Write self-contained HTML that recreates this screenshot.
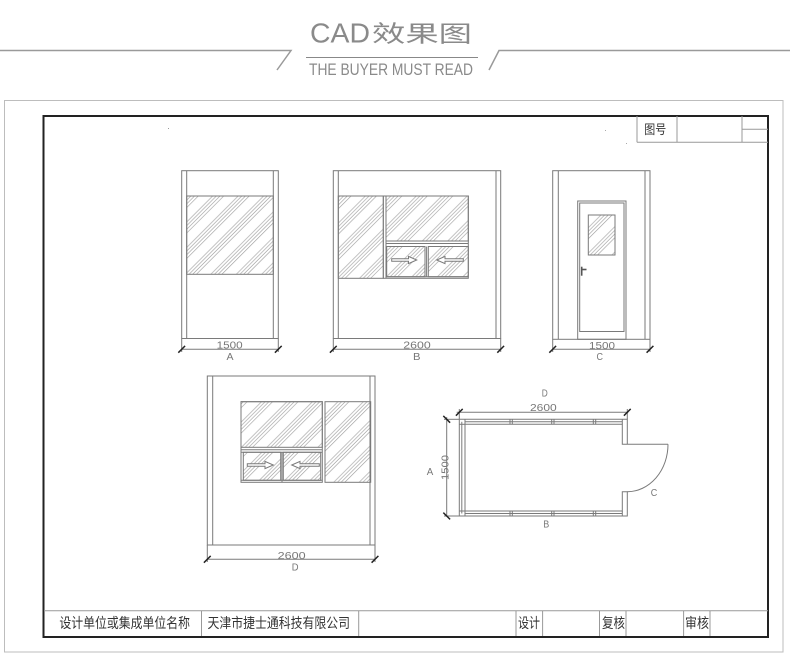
<!DOCTYPE html>
<html><head><meta charset="utf-8"><style>
html,body{margin:0;padding:0;background:#fff;}
svg{display:block;}
</style></head><body>
<svg width="790" height="672" viewBox="0 0 790 672" xmlns="http://www.w3.org/2000/svg">
<defs>
<pattern id="h" patternUnits="userSpaceOnUse" width="18" height="18" patternTransform="rotate(45)">
<line x1="1" y1="0" x2="1" y2="18" stroke="#9a9a9a" stroke-width="0.6"/>
<line x1="3.6" y1="0" x2="3.6" y2="18" stroke="#9a9a9a" stroke-width="0.6"/>
<line x1="6.2" y1="0" x2="6.2" y2="18" stroke="#9a9a9a" stroke-width="0.6"/>
<line x1="8.8" y1="0" x2="8.8" y2="18" stroke="#9a9a9a" stroke-width="0.6"/>
</pattern>
</defs>
<rect width="790" height="672" fill="#fff"/>

<!-- header -->
<g stroke="#9a9a9a" stroke-width="1.5" fill="none">
<polyline points="0,50.5 291,50.5 277,70"/>
<polyline points="489,70 499,50.5 790,50.5"/>
</g>
<line x1="306" y1="57.5" x2="478" y2="57.5" stroke="#888" stroke-width="1"/>
<text x="310" y="42.3" font-family="Liberation Sans, sans-serif" font-size="28" fill="#8a8a8a" textLength="60" lengthAdjust="spacingAndGlyphs">CAD</text>
<text x="372" y="41.5" font-family="Liberation Sans, 'Noto Sans CJK SC', sans-serif" font-size="23" fill="#8a8a8a" textLength="100" lengthAdjust="spacingAndGlyphs">效果图</text>
<text x="309" y="75" font-family="Liberation Sans, sans-serif" font-size="16.5" fill="#8a8a8a" textLength="164" lengthAdjust="spacingAndGlyphs">THE BUYER MUST READ</text>

<!-- frames -->
<rect x="4.5" y="100.5" width="778.5" height="551.5" fill="none" stroke="#bdbdbd" stroke-width="1"/>
<rect x="43.5" y="116" width="724.5" height="521" fill="none" stroke="#222" stroke-width="2"/>

<!-- top right title cells -->
<g stroke="#999" stroke-width="1" fill="none">
<line x1="637" y1="116" x2="637" y2="142.3"/>
<line x1="677" y1="116" x2="677" y2="142.3"/>
<line x1="742" y1="116" x2="742" y2="142.3"/>
<line x1="637" y1="142.3" x2="768" y2="142.3"/>
<line x1="742" y1="129.3" x2="768" y2="129.3"/>
</g>
<text x="644.3" y="134" font-family="Liberation Sans, 'Noto Sans CJK SC', sans-serif" font-size="13" fill="#333" textLength="22" lengthAdjust="spacingAndGlyphs">图号</text>

<!-- specks -->
<rect x="168" y="128" width="1" height="1" fill="#999"/>
<rect x="605" y="130" width="1" height="1" fill="#aaa"/>
<rect x="626" y="143" width="1" height="1" fill="#aaa"/>

<!-- bottom table -->
<g stroke="#999" stroke-width="1" fill="none">
<line x1="44" y1="610.7" x2="768" y2="610.7"/>
<line x1="201.5" y1="610.7" x2="201.5" y2="636"/>
<line x1="358.7" y1="610.7" x2="358.7" y2="636"/>
<line x1="516" y1="610.7" x2="516" y2="636"/>
<line x1="542.6" y1="610.7" x2="542.6" y2="636"/>
<line x1="599.5" y1="610.7" x2="599.5" y2="636"/>
<line x1="626" y1="610.7" x2="626" y2="636"/>
<line x1="683.6" y1="610.7" x2="683.6" y2="636"/>
<line x1="710" y1="610.7" x2="710" y2="636"/>
</g>
<g font-family="Liberation Sans, 'Noto Sans CJK SC', sans-serif" font-size="14" fill="#333">
<text x="59.4" y="628" textLength="130.6" lengthAdjust="spacingAndGlyphs">设计单位或集成单位名称</text>
<text x="207.5" y="628" textLength="142.5" lengthAdjust="spacingAndGlyphs">天津市捷士通科技有限公司</text>
<text x="518" y="628" textLength="22" lengthAdjust="spacingAndGlyphs">设计</text>
<text x="602" y="628" textLength="23" lengthAdjust="spacingAndGlyphs">复核</text>
<text x="685" y="628" textLength="24" lengthAdjust="spacingAndGlyphs">审核</text>
</g>

<!-- ===== Elevation A ===== -->
<g stroke="#7a7a7a" stroke-width="1" fill="none">
<rect x="186.7" y="196" width="86.6" height="78.3" fill="url(#h)"/>
<rect x="181.7" y="170.7" width="96.6" height="167.8"/>
<line x1="186.7" y1="170.7" x2="186.7" y2="338.5"/>
<line x1="273.3" y1="170.7" x2="273.3" y2="338.5"/>
<line x1="181.7" y1="338.5" x2="181.7" y2="352"/>
<line x1="278.3" y1="338.5" x2="278.3" y2="352"/>
<line x1="181.7" y1="349.3" x2="278.3" y2="349.3"/>
</g>
<g stroke="#222" stroke-width="1.5">
<line x1="178.3" y1="352.7" x2="185.1" y2="345.9"/>
<line x1="274.9" y1="352.7" x2="281.7" y2="345.9"/>
</g>

<!-- ===== Elevation B ===== -->
<g stroke="#7a7a7a" stroke-width="1" fill="none">
<rect x="338.3" y="196" width="45" height="82.3" fill="url(#h)"/>
<rect x="386" y="196" width="82.3" height="45" fill="url(#h)"/>
<rect x="386.7" y="246.5" width="38.3" height="30.2" fill="url(#h)"/>
<rect x="428.3" y="246.5" width="40" height="30.2" fill="url(#h)"/>
<rect x="383.3" y="196" width="85" height="82.3"/>
<line x1="386" y1="196" x2="386" y2="278.3"/>
<line x1="386" y1="243.5" x2="468.3" y2="243.5"/>
<line x1="426.6" y1="246.5" x2="426.6" y2="276.7"/>
<line x1="386" y1="276.7" x2="468.3" y2="276.7"/>
<rect x="333.3" y="170.7" width="167.4" height="167.8"/>
<line x1="338.3" y1="170.7" x2="338.3" y2="338.5"/>
<line x1="496" y1="170.7" x2="496" y2="338.5"/>
<line x1="333.3" y1="338.5" x2="333.3" y2="352"/>
<line x1="500.7" y1="338.5" x2="500.7" y2="352"/>
<line x1="333.3" y1="349.3" x2="500.7" y2="349.3"/>
<polygon points="391.7,258.7 408.5,258.7 408.5,256.4 416.7,260 408.5,263.6 408.5,261.3 391.7,261.3" fill="#fff"/>
<polygon points="463.3,258.7 445,258.7 445,256.4 436.7,260 445,263.6 445,261.3 463.3,261.3" fill="#fff"/>
</g>
<g stroke="#222" stroke-width="1.5">
<line x1="329.9" y1="352.7" x2="336.7" y2="345.9"/>
<line x1="497.3" y1="352.7" x2="504.1" y2="345.9"/>
</g>

<!-- ===== Elevation C ===== -->
<g stroke="#7a7a7a" stroke-width="1" fill="none">
<rect x="552.7" y="170.7" width="97.3" height="168.6"/>
<line x1="558.3" y1="170.7" x2="558.3" y2="339.3"/>
<line x1="645" y1="170.7" x2="645" y2="339.3"/>
<rect x="577.7" y="201" width="48.3" height="138.3"/>
<rect x="579.7" y="203" width="44.3" height="128.5"/>
<rect x="588.3" y="215" width="26.7" height="40" fill="url(#h)"/>
<line x1="552.7" y1="339.3" x2="552.7" y2="352"/>
<line x1="650" y1="339.3" x2="650" y2="352"/>
<line x1="552.7" y1="349.3" x2="650" y2="349.3"/>
</g>
<g stroke="#555" stroke-width="1.6">
<line x1="581.7" y1="266.7" x2="581.7" y2="275.7"/>
<line x1="581.7" y1="269.5" x2="586.5" y2="269.5"/>
</g>
<g stroke="#222" stroke-width="1.5">
<line x1="549.3" y1="352.7" x2="556.1" y2="345.9"/>
<line x1="646.6" y1="352.7" x2="653.4" y2="345.9"/>
</g>

<!-- ===== Elevation D ===== -->
<g stroke="#7a7a7a" stroke-width="1" fill="none">
<rect x="241" y="401.7" width="81.3" height="45.6" fill="url(#h)"/>
<rect x="243.3" y="452.3" width="37.4" height="28" fill="url(#h)"/>
<rect x="283.3" y="452.3" width="37.4" height="28" fill="url(#h)"/>
<rect x="325" y="401.7" width="45.7" height="80.6" fill="url(#h)"/>
<rect x="241" y="401.7" width="81.3" height="80.6"/>
<line x1="241" y1="449.8" x2="322.3" y2="449.8"/>
<line x1="241" y1="452.3" x2="322.3" y2="452.3"/>
<line x1="282" y1="452.3" x2="282" y2="482.3"/>
<line x1="241" y1="480.3" x2="322.3" y2="480.3"/>
<rect x="207.3" y="376" width="167.7" height="169"/>
<line x1="212.7" y1="376" x2="212.7" y2="545"/>
<line x1="370" y1="376" x2="370" y2="545"/>
<line x1="207.3" y1="545" x2="207.3" y2="562"/>
<line x1="375" y1="545" x2="375" y2="562"/>
<line x1="207.3" y1="559.3" x2="375" y2="559.3"/>
<polygon points="247.3,463.7 265,463.7 265,461.4 273.3,465 265,468.6 265,466.3 247.3,466.3" fill="#fff"/>
<polygon points="319.3,463.7 300,463.7 300,461.4 291.7,465 300,468.6 300,466.3 319.3,466.3" fill="#fff"/>
</g>
<g stroke="#222" stroke-width="1.5">
<line x1="203.9" y1="562.7" x2="210.7" y2="555.9"/>
<line x1="371.6" y1="562.7" x2="378.4" y2="555.9"/>
</g>

<!-- ===== Plan ===== -->
<g stroke="#7a7a7a" stroke-width="1" fill="none">
<polyline points="627.3,444.3 627.3,419.3 459.3,419.3 459.3,516 627.3,516 627.3,491.7 622.3,491.7 622.3,511 465,511 465,424.3 622.3,424.3 622.3,444.3 668,444.3"/>
<line x1="461.8" y1="421.8" x2="461.8" y2="513.5"/>
<line x1="465" y1="421.8" x2="622.3" y2="421.8"/>
<line x1="465" y1="513.5" x2="622.3" y2="513.5"/>
<line x1="459.3" y1="424.3" x2="465" y2="424.3"/>
<line x1="459.3" y1="511" x2="465" y2="511"/>
<line x1="465" y1="419.3" x2="465" y2="424.3"/>
<line x1="465" y1="511" x2="465" y2="516"/>
<line x1="622.3" y1="419.3" x2="622.3" y2="424.3"/>
<line x1="622.3" y1="511" x2="622.3" y2="516"/>
<line x1="510" y1="419.3" x2="510" y2="424.3"/>
<line x1="512.3" y1="419.3" x2="512.3" y2="424.3"/>
<line x1="551.7" y1="419.3" x2="551.7" y2="424.3"/>
<line x1="554" y1="419.3" x2="554" y2="424.3"/>
<line x1="593.3" y1="419.3" x2="593.3" y2="424.3"/>
<line x1="595.7" y1="419.3" x2="595.7" y2="424.3"/>
<line x1="510" y1="511" x2="510" y2="516"/>
<line x1="512.3" y1="511" x2="512.3" y2="516"/>
<line x1="551.7" y1="511" x2="551.7" y2="516"/>
<line x1="554" y1="511" x2="554" y2="516"/>
<line x1="593.3" y1="511" x2="593.3" y2="516"/>
<line x1="595.7" y1="511" x2="595.7" y2="516"/>
<path d="M668,444.3 A40.7 47.4 0 0 1 627.3,491.7"/>
<line x1="456.7" y1="412.3" x2="628.3" y2="412.3"/>
<line x1="459.3" y1="409" x2="459.3" y2="419.3"/>
<line x1="627.3" y1="409" x2="627.3" y2="419.3"/>
<line x1="446.7" y1="417" x2="446.7" y2="516"/>
<line x1="444" y1="419.3" x2="459.3" y2="419.3"/>
<line x1="444" y1="516" x2="459.3" y2="516"/>
</g>
<g stroke="#222" stroke-width="1.5">
<line x1="455.9" y1="415.7" x2="462.7" y2="408.9"/>
<line x1="623.9" y1="415.7" x2="630.7" y2="408.9"/>
<line x1="443.3" y1="415.9" x2="450.1" y2="422.7"/>
<line x1="443.3" y1="512.6" x2="450.1" y2="519.4"/>
</g>

<!-- CAD labels -->
<g font-family="Liberation Sans, sans-serif" font-size="10" fill="#777">
<text x="216.7" y="348.5" textLength="26" lengthAdjust="spacingAndGlyphs">1500</text>
<text x="226.5" y="360" textLength="7" lengthAdjust="spacingAndGlyphs">A</text>
<text x="403.3" y="348.5" textLength="27.4" lengthAdjust="spacingAndGlyphs">2600</text>
<text x="413" y="360" textLength="7.5" lengthAdjust="spacingAndGlyphs">B</text>
<text x="589" y="349" textLength="26" lengthAdjust="spacingAndGlyphs">1500</text>
<text x="596.5" y="360" textLength="6.5" lengthAdjust="spacingAndGlyphs">C</text>
<text x="277.7" y="559" textLength="28" lengthAdjust="spacingAndGlyphs">2600</text>
<text x="291.7" y="570.7" textLength="6.8" lengthAdjust="spacingAndGlyphs">D</text>
<text x="541.7" y="396.7" textLength="6" lengthAdjust="spacingAndGlyphs">D</text>
<text x="530" y="411.2" textLength="26.7" lengthAdjust="spacingAndGlyphs">2600</text>
<text x="426.7" y="475" textLength="6.5" lengthAdjust="spacingAndGlyphs">A</text>
<text x="543.3" y="527.7" textLength="6" lengthAdjust="spacingAndGlyphs">B</text>
<text x="650.7" y="496" textLength="6.5" lengthAdjust="spacingAndGlyphs">C</text>
<text x="0" y="0" transform="translate(448.3,480) rotate(-90)" textLength="25" lengthAdjust="spacingAndGlyphs">1500</text>
</g>
</svg>
</body></html>
